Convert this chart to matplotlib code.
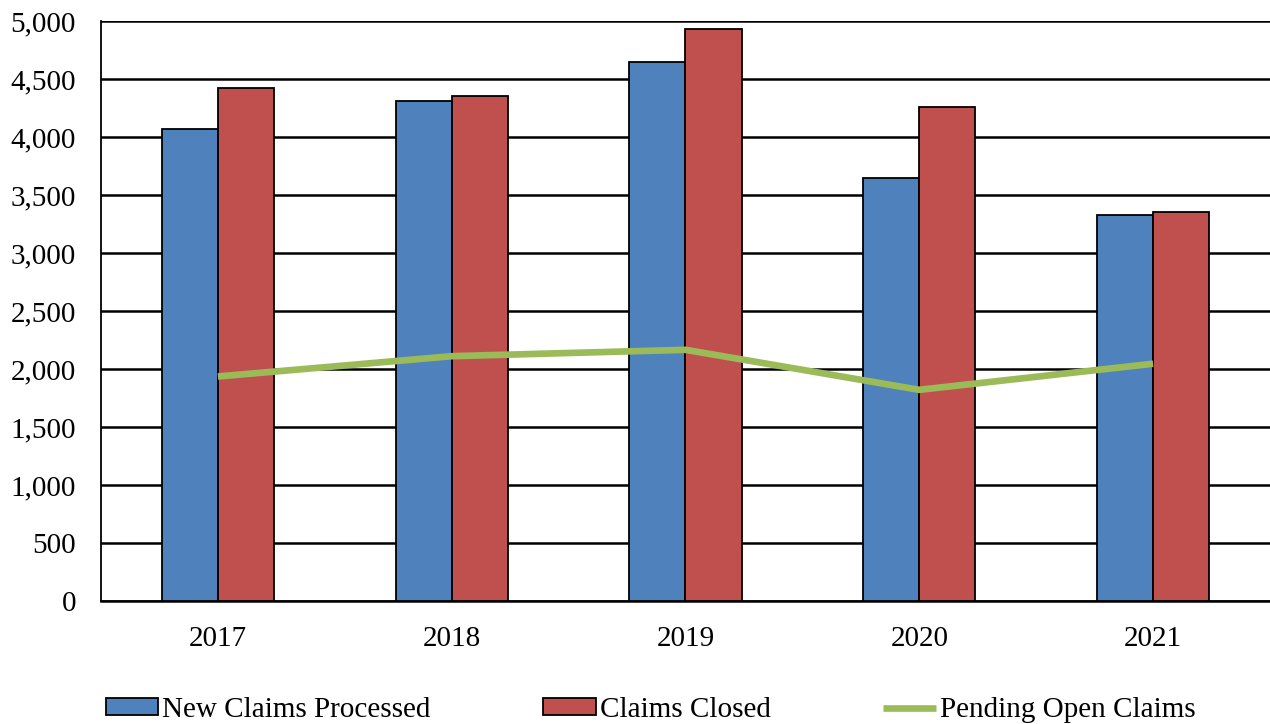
import numpy as np
import matplotlib.pyplot as plt

years = ['2017', '2018', '2019', '2020', '2021']
new_claims = [4065, 4310, 4645, 3645, 3325]
claims_closed = [4420, 4350, 4930, 4258, 3352]
pending_open = [1935, 2110, 2165, 1820, 2045]

plt.rcParams['font.family'] = ['Liberation Serif', 'DejaVu Serif']

fig = plt.figure(figsize=(12.7, 7.24), dpi=100)
ax = fig.add_axes([0.0795, 0.17, 0.9205, 0.801])

x = np.arange(len(years))
width = 0.24

b1 = ax.bar(x - width / 2, new_claims, width, color='#4F81BD', edgecolor='black',
            linewidth=1.3, label='New Claims Processed', zorder=3)
b2 = ax.bar(x + width / 2, claims_closed, width, color='#C0504D', edgecolor='black',
            linewidth=1.3, label='Claims Closed', zorder=3)
ln, = ax.plot(x, pending_open, color='#9BBB59', linewidth=4.8,
              label='Pending Open Claims', zorder=4, solid_capstyle='butt')

ax.set_xlim(-0.5, len(years) - 0.5)
ax.set_ylim(0, 5000)
ax.set_yticks(np.arange(0, 5001, 500))
ax.set_yticklabels(['{:,}'.format(v) for v in range(0, 5001, 500)])
ax.set_xticks(x)
ax.set_xticklabels(years)
ax.tick_params(axis='both', length=0, labelsize=21)
ax.tick_params(axis='y', pad=18)
ax.tick_params(axis='x', pad=18)

ax.yaxis.grid(True, color='black', linewidth=1.8, zorder=0)
ax.set_axisbelow(True)
for side in ['top', 'right']:
    ax.spines[side].set_visible(False)
ax.spines['left'].set_linewidth(1.3)
ax.spines['bottom'].set_linewidth(1.8)

fig.legend(handles=[b1, b2, ln], loc='lower left', bbox_to_anchor=(0.0625, -0.035),
           ncol=3, frameon=False, fontsize=21, handlelength=1.8, handleheight=0.5,
           handletextpad=0.15, columnspacing=3.85)

fig.savefig('out.png', dpi=100)
